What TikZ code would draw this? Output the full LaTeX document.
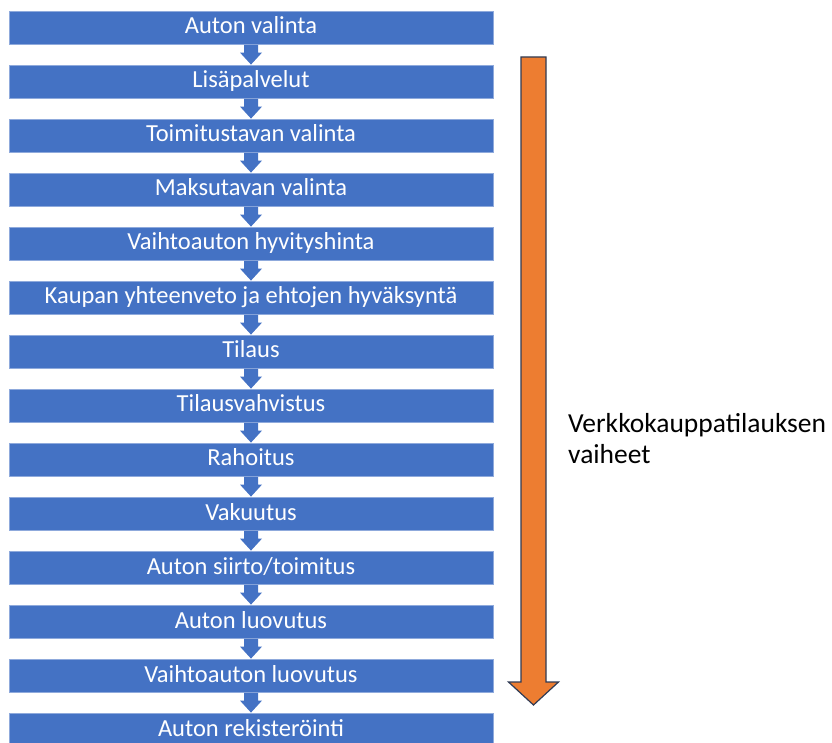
\documentclass[tikz,border=0pt]{standalone}
\usepackage{fontspec}
\setmainfont{Carlito}
\usetikzlibrary{calc, positioning}
\definecolor{stepblue}{HTML}{4472C4}
\definecolor{stepedge}{HTML}{8FAADC}
\definecolor{flowrust}{HTML}{ED7D31}
\definecolor{flowedge}{HTML}{2F3B55}

\begin{document}
\begin{tikzpicture}[x=1pt, y=1pt,
  stepbox/.style={fill=stepblue, draw=stepedge, line width=0.8pt,
    minimum width=484pt, minimum height=33.5pt, inner sep=0pt,
    text=white, font=\fontsize{24.5}{28}\selectfont,
    text height=15.5pt, text depth=3pt}]
  \useasboundingbox (0,0) rectangle (832,742);
  \clip (0,0) rectangle (832,742);
  \def\pitch{54} % row pitch
  \def\sw{7} % half stem width
  \def\hw{11} % half head width
  \def\hl{12} % head length
  % steps
  \foreach \i/\name in {
    0/{Auton valinta},
    1/{Lisäpalvelut},
    2/{Toimitustavan valinta},
    3/{Maksutavan valinta},
    4/{Vaihtoauton hyvityshinta},
    5/{Kaupan yhteenveto ja ehtojen hyväksyntä},
    6/{Tilaus},
    7/{Tilausvahvistus},
    8/{Rahoitus},
    9/{Vakuutus},
    10/{Auton siirto/toimitus},
    11/{Auton luovutus},
    12/{Vaihtoauton luovutus},
    13/{Auton rekisteröinti}}
  {
    \node[stepbox] (b\i) at (251, {742-27.75-\i*\pitch}) {\name};
  }
  % links between steps
  \foreach \i [evaluate=\i as \j using int(\i+1)] in {0,...,12}
  {
    \fill[stepblue] ($(b\i.south)+(-\sw,0)$) -- ($(b\j.north)+(-\sw,\hl)$)
      -- ($(b\j.north)+(-\hw,\hl)$) -- (b\j.north) -- ($(b\j.north)+(\hw,\hl)$)
      -- ($(b\j.north)+(\sw,\hl)$) -- ($(b\i.south)+(\sw,0)$) -- cycle;
  }
  % big arrow
  \coordinate (flowtop) at (533.5, 685);
  \coordinate (flowtip) at (533.5, 37);
  \draw[flowedge, fill=flowrust, line width=1.2pt, line join=miter]
    ($(flowtop)+(-12.5,0)$) -- ($(flowtip)+(-12.5,23)$) -- ($(flowtip)+(-25,23)$)
    -- (flowtip) -- ($(flowtip)+(25,23)$) -- ($(flowtip)+(12.5,23)$)
    -- ($(flowtop)+(12.5,0)$) -- cycle;
  \node[anchor=north west, align=left, inner sep=0pt,
    font=\fontsize{27.5}{31}\selectfont] (phases) at (568, 329)
    {Verkkokauppatilauksen\\vaiheet};
\end{tikzpicture}
\end{document}
